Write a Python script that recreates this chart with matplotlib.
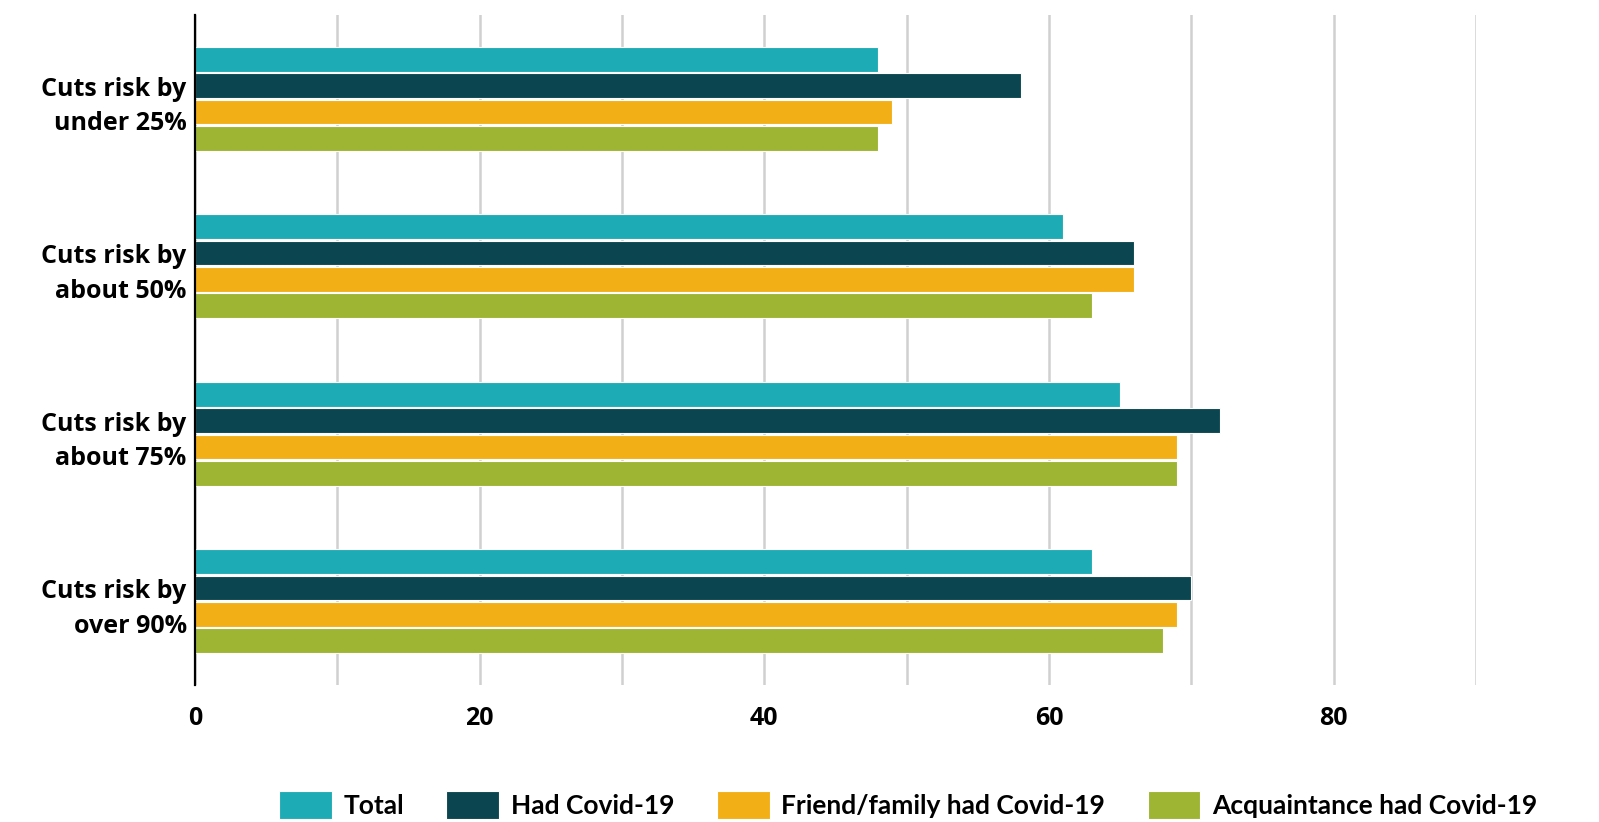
import numpy as np
import matplotlib
matplotlib.use("Agg")
import matplotlib.pyplot as plt
from matplotlib.ticker import MultipleLocator

categories = ["Cuts risk by\nunder 25%", "Cuts risk by\nabout 50%",
              "Cuts risk by\nabout 75%", "Cuts risk by\nover 90%"]
series_names = ["Total", "Had Covid-19", "Friend/family had Covid-19",
                "Acquaintance had Covid-19"]
total = [48, 61, 65, 63]
had_covid = [58, 66, 72, 70]
friend_family = [49, 66, 69, 69]
acquaintance = [48, 63, 69, 68]
x_ticks = [0, 20, 40, 60, 80]

COLORS = ["#1dacb5", "#0b4650", "#f3af16", "#9db533"]

plt.rcParams['font.family'] = ['Open Sans', 'DejaVu Sans']
plt.rcParams['font.weight'] = 'bold'

fig = plt.figure(figsize=(15.99, 8.22), dpi=100)
ax = fig.add_axes([195 / 1599, 1 - 685 / 822, (1476 - 195) / 1599, (685 - 15) / 822])

y = np.arange(len(categories))
slot = 0.157
height = 0.148
values = [total, had_covid, friend_family, acquaintance]
for i, (name, vals, color) in enumerate(zip(series_names, values, COLORS)):
    ax.barh(y + (i - 1.5) * slot, vals, height=height, color=color, label=name,
            edgecolor="white", linewidth=0.8, zorder=3)

ax.set_ylim(3.5, -0.5)
ax.set_xlim(0, 90)
ax.set_yticks(y)
ax.set_yticklabels(categories, fontsize=18, fontweight='bold', ha='right',
                   linespacing=1.5)
ax.set_xticks(x_ticks)
ax.set_xticklabels([str(t) for t in x_ticks], fontsize=18, fontweight='bold')
ax.xaxis.set_minor_locator(MultipleLocator(10))
ax.tick_params(axis='both', which='both', length=0)
ax.tick_params(axis='x', pad=15)
ax.tick_params(axis='y', pad=6)

ax.grid(axis='x', which='both', color='#d0d0d0', linewidth=1.8, zorder=0)
for side in ['top', 'right', 'bottom']:
    ax.spines[side].set_visible(False)
ax.spines['left'].set_color('black')
ax.spines['left'].set_linewidth(1.6)
ax.spines['left'].set_zorder(4)

# legend text is narrower than the axis labels
fig.legend(loc='center', bbox_to_anchor=(0.568, 1 - 805 / 822), ncol=4,
           frameon=False, prop={'family': 'Lato', 'weight': 'bold', 'size': 19},
           handlelength=2.0, handleheight=1.3, columnspacing=1.6,
           handletextpad=0.45)

fig.savefig("out.png", dpi=100, facecolor="white")
